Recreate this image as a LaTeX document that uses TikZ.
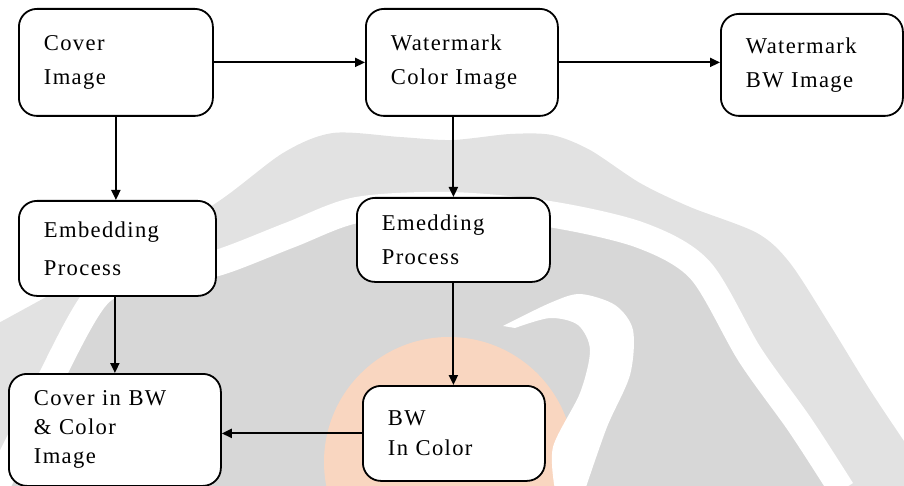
\documentclass[tikz,border=0pt]{standalone}
\usepackage{fontspec}
\setmainfont{Liberation Serif}[LetterSpace=6]
\usetikzlibrary{arrows.meta}
\definecolor{wmlight}{gray}{0.885}
\definecolor{wmdark}{gray}{0.845}
\definecolor{wmpeach}{RGB}{249,214,192}
\begin{document}
\begin{tikzpicture}[x=1pt,y=-1pt,>={Triangle[length=10pt,width=9pt]},
  blk/.style={draw,fill=white,line width=1.8pt,rounded corners=18pt,anchor=north west,align=left,inner xsep=25pt,inner ysep=0pt,font=\fontsize{22.6}{34}\selectfont},
  flow/.style={->,line width=2pt}]
\useasboundingbox (0,0) rectangle (904,486);
\begin{scope}
\clip (0,0) rectangle (904,486);
\fill[wmlight] plot[smooth] coordinates {(-5,325) (110,262) (213,205) (283,153) (333,133) (400,137) (452,140) (510,134) (552,135) (590,150) (640,183) (690,207) (757,233) (790,263) (830,325) (870,390) (910,450)} -- (910,490) -- (-5,490) -- cycle;
\fill[wmdark] plot[smooth] coordinates {(-5,490) (40,400) (98,295) (160,272) (217,263) (290,235) (357,210) (450,205) (549,214) (640,235) (700,270) (750,355) (800,425) (842,490)} -- cycle;
\draw[white,line width=26pt] plot[smooth] coordinates {(-5,490) (40,400) (98,295) (160,272) (217,263) (290,235) (357,210) (450,205) (549,214) (640,235) (700,270) (750,355) (800,425) (842,490)};
\fill[wmpeach] (449,462) circle (125);
\fill[white] plot[smooth] coordinates {(503,326) (550,303) (580,294) (615,305) (633,330) (630,375) (607,427) (585,490)} -- plot[smooth] coordinates {(555,490) (553,447) (580,393) (590,350) (578,325) (550,318) (515,328)} -- cycle;
\end{scope}

\node[blk,text width=144pt,minimum height=107pt] (cover) at (18,8) {Cover\\Image};
\node[blk,text width=142pt,minimum height=107pt] (wmcol) at (365,8) {Watermark\\Color Image};
\node[blk,text width=132pt,minimum height=102pt] (wmbw) at (720,13) {Watermark\\BW Image};
\node[blk,text width=147pt,minimum height=95pt,font=\fontsize{22.6}{38}\selectfont] (embed) at (18,200) {Embedding\\Process};
\node[blk,text width=143pt,minimum height=84pt] (emed) at (356,197) {Emedding\\Process};
\node[blk,text width=162pt,minimum height=112pt,font=\fontsize{22.6}{29}\selectfont] (result) at (8,373) {Cover in BW\\\& Color\\Image};
\node[blk,text width=132pt,minimum height=95pt,font=\fontsize{22.6}{30}\selectfont] (bwcol) at (362,385) {BW\\In Color};

\draw[flow] (cover.east) -- (wmcol.west);
\draw[flow] (wmcol.east) -- (wmcol.east -| wmbw.west);
\draw[flow] (cover.south) -- (cover.south |- embed.north);
\draw[flow] (emed.north |- wmcol.south) -- (emed.north);
\draw[flow] (embed.south -| result.north) -- (result.north);
\draw[flow] (emed.south) -- (emed.south |- bwcol.north);
\draw[flow] (bwcol.west) -- (bwcol.west -| result.east);
\end{tikzpicture}
\end{document}
